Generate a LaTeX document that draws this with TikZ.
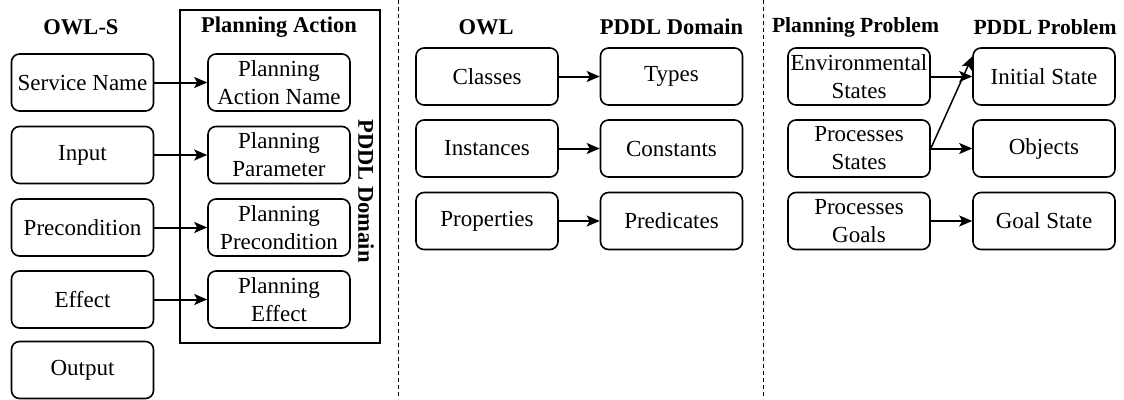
\documentclass[tikz,border=0pt]{standalone}
\usepackage{fontspec}
\setmainfont{Liberation Serif}
\usetikzlibrary{arrows.meta,calc}
\begin{document}
\begin{tikzpicture}[x=1pt,y=-1pt,
  box/.style={draw, line width=1.6pt, rounded corners=8pt, minimum width=142pt, minimum height=57pt, inner sep=0pt, align=center, font=\fontsize{23}{28}\selectfont},
  ttl/.style={font=\fontsize{22.5}{27}\selectfont\bfseries, inner sep=0pt},
  arr/.style={line width=2pt, -{Stealth[length=13pt,width=11pt,inset=3pt]}},
  sep/.style={line width=1.3pt, dash pattern=on 4pt off 3pt}]
\useasboundingbox (0,0) rectangle (1124,399);
% left section
\node[draw, line width=1.6pt, minimum width=200pt, minimum height=333pt, inner sep=0pt] (pa) at (280,176.5) {};
\node[ttl] (t1) at (81,27) {OWL-S};
\node[ttl] (t2) at (279,27) {Planning Action};
\node[ttl, rotate=-90] (t3) at (366,191) {PDDL Domain};
\node[box] (sn) at (82.5,82.5) {Service Name};
\node[box] (in) at (82.5,155) {Input};
\node[box] (pc) at (82.5,227.5) {Precondition};
\node[box] (ef) at (82.5,299.5) {Effect};
\node[box] (op) at (82.5,370) {Output};
\node[box] (pan) at (279,82.5) {Planning\\Action Name};
\node[box] (pp) at (279,155) {Planning\\Parameter};
\node[box] (ppc) at (279,227.5) {Planning\\Precondition};
\node[box] (pe) at (279,299.5) {Planning\\Effect};
\draw[arr] (sn) -- (pan);
\draw[arr] (in) -- (pp);
\draw[arr] (pc) -- (ppc);
\draw[arr] (ef) -- (pe);
% separators
\draw[sep] (398.5,0) -- (398.5,399);
\draw[sep] (763.5,0) -- (763.5,399);
% middle section
\node[ttl] (t4) at (486,27) {OWL};
\node[ttl] (t5) at (671.5,27) {PDDL Domain};
\node[box] (cl) at (487,76.5) {Classes};
\node[box] (is) at (487,148.5) {Instances};
\node[box] (pr) at (487,221) {Properties};
\node[box] (ty) at (671.5,76.5) {Types};
\node[box] (co) at (671.5,148.5) {Constants};
\node[box] (pd) at (671.5,221) {Predicates};
\draw[arr] (cl) -- (ty);
\draw[arr] (is) -- (co);
\draw[arr] (pr) -- (pd);
% right section
\node[ttl, font=\fontsize{21.6}{26}\selectfont\bfseries] (t6) at (855.5,27) {Planning Problem};
\node[ttl, font=\fontsize{21.6}{26}\selectfont\bfseries] (t7) at (1045,27) {PDDL Problem};
\node[box] (es) at (859,76.5) {Environmental\\States};
\node[box] (ps) at (859,148.5) {Processes\\States};
\node[box] (pg) at (859,221) {Processes\\Goals};
\node[box] (ist) at (1044,76.5) {Initial State};
\node[box] (ob) at (1044,148.5) {Objects};
\node[box] (gs) at (1044,221) {Goal State};
\draw[arr] (es) -- (ist);
\draw[arr] (ps) -- (ob);
\draw[line width=1.5pt, -{Stealth[length=13pt,width=11pt,inset=3pt]}] (ps.east) -- ([yshift=20pt]ist.west);
\draw[arr] (pg) -- (gs);
\end{tikzpicture}
\end{document}
